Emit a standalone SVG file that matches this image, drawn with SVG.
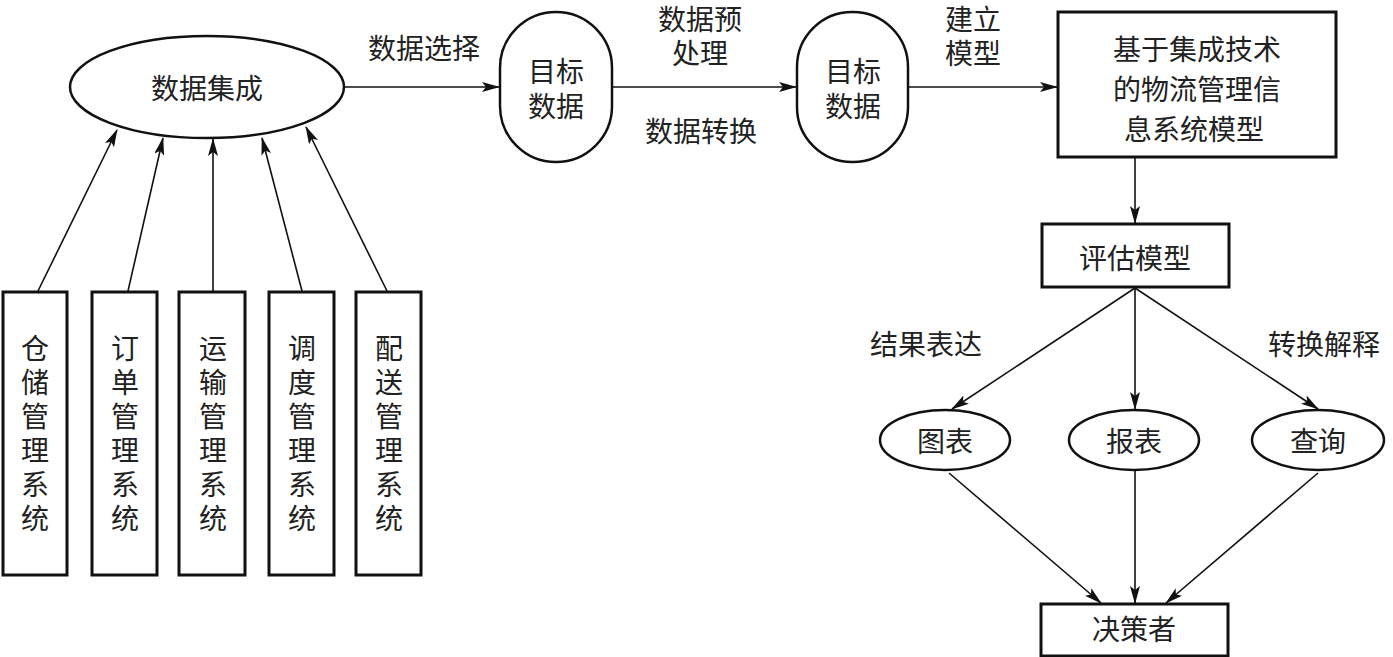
<svg xmlns="http://www.w3.org/2000/svg" width="1393" height="657" viewBox="0 0 1393 657">
<style>
text{font-family:"Noto Sans CJK SC","Liberation Sans",sans-serif;font-size:28px;fill:#222;text-anchor:middle;dominant-baseline:central}
.v{writing-mode:vertical-rl;letter-spacing:6px;dominant-baseline:auto}
.box{fill:#fff;stroke:#111;stroke-width:3}
.ell{fill:#fff;stroke:#111;stroke-width:2.5}
.con line{stroke:#111;stroke-width:1.6;marker-end:url(#ah)}
</style>
<defs>
<marker id="ah" markerUnits="userSpaceOnUse" markerWidth="18" markerHeight="10" refX="17" refY="5" orient="auto">
<path d="M0,0 L18,5 L0,10 L4,5 Z" fill="#111"/>
</marker>
</defs>
<rect width="1393" height="657" fill="#fff"/>
<g class="con">
<line x1="38" y1="291" x2="117" y2="130"/>
<line x1="128" y1="291" x2="163" y2="138"/>
<line x1="213" y1="291" x2="213" y2="139"/>
<line x1="302" y1="291" x2="262" y2="138"/>
<line x1="387" y1="291" x2="306" y2="127"/>
<line x1="344" y1="87" x2="499" y2="87"/>
<line x1="612" y1="87" x2="796" y2="87"/>
<line x1="908" y1="87" x2="1057" y2="87"/>
<line x1="1135" y1="158" x2="1135" y2="223"/>
<line x1="1135" y1="288" x2="952" y2="409"/>
<line x1="1135" y1="288" x2="1135" y2="409"/>
<line x1="1135" y1="288" x2="1318" y2="409"/>
<line x1="949" y1="473" x2="1101" y2="603"/>
<line x1="1135" y1="471" x2="1135" y2="603"/>
<line x1="1318" y1="473" x2="1166" y2="603"/>
</g>
<g class="labels">
<text x="424" y="47">数据选择</text>
<text x="700" y="18">数据预<tspan x="700" dy="34">处理</tspan></text>
<text x="701" y="130">数据转换</text>
<text x="973" y="18">建立<tspan x="973" dy="34">模型</tspan></text>
<text x="926" y="343">结果表达</text>
<text x="1268" y="343" style="text-anchor:start">转换解释</text>
</g>
<g id="integ"><ellipse class="ell" cx="207" cy="87" rx="137" ry="51"/><text x="207" y="87">数据集成</text></g>
<g id="target1"><rect class="ell" x="500" y="12" width="112" height="150" rx="56" ry="56"/><text x="556" y="70">目标<tspan x="556" dy="35">数据</tspan></text></g>
<g id="target2"><rect class="ell" x="797" y="12" width="111" height="150" rx="55" ry="55"/><text x="853" y="70">目标<tspan x="853" dy="35">数据</tspan></text></g>
<g id="model"><rect class="box" x="1058" y="12" width="278" height="145"/>
<text x="1197" y="48">基于集成技术<tspan x="1197" dy="40">的物流管理信</tspan><tspan x="1194" dy="40">息系统模型</tspan></text></g>
<g id="eval"><rect class="box" x="1042" y="224" width="187" height="63"/><text x="1135" y="257">评估模型</text></g>
<g id="chart"><ellipse class="ell" cx="945" cy="440" rx="65" ry="30"/><text x="945" y="440">图表</text></g>
<g id="report"><ellipse class="ell" cx="1134" cy="440" rx="65" ry="30"/><text x="1134" y="440">报表</text></g>
<g id="query"><ellipse class="ell" cx="1318" cy="440" rx="66" ry="30"/><text x="1318" y="440">查询</text></g>
<g id="decider"><rect class="box" x="1041" y="604" width="187" height="52"/><text x="1134" y="628">决策者</text></g>
<g id="s1"><rect class="box" x="3" y="292" width="64" height="283"/><text class="v" x="35" y="436">仓储管理系统</text></g>
<g id="s2"><rect class="box" x="92" y="292" width="65" height="283"/><text class="v" x="125" y="436">订单管理系统</text></g>
<g id="s3"><rect class="box" x="179" y="292" width="66" height="283"/><text class="v" x="213" y="436">运输管理系统</text></g>
<g id="s4"><rect class="box" x="269" y="292" width="65" height="283"/><text class="v" x="302" y="436">调度管理系统</text></g>
<g id="s5"><rect class="box" x="356" y="292" width="65" height="283"/><text class="v" x="389" y="436">配送管理系统</text></g>
</svg>
